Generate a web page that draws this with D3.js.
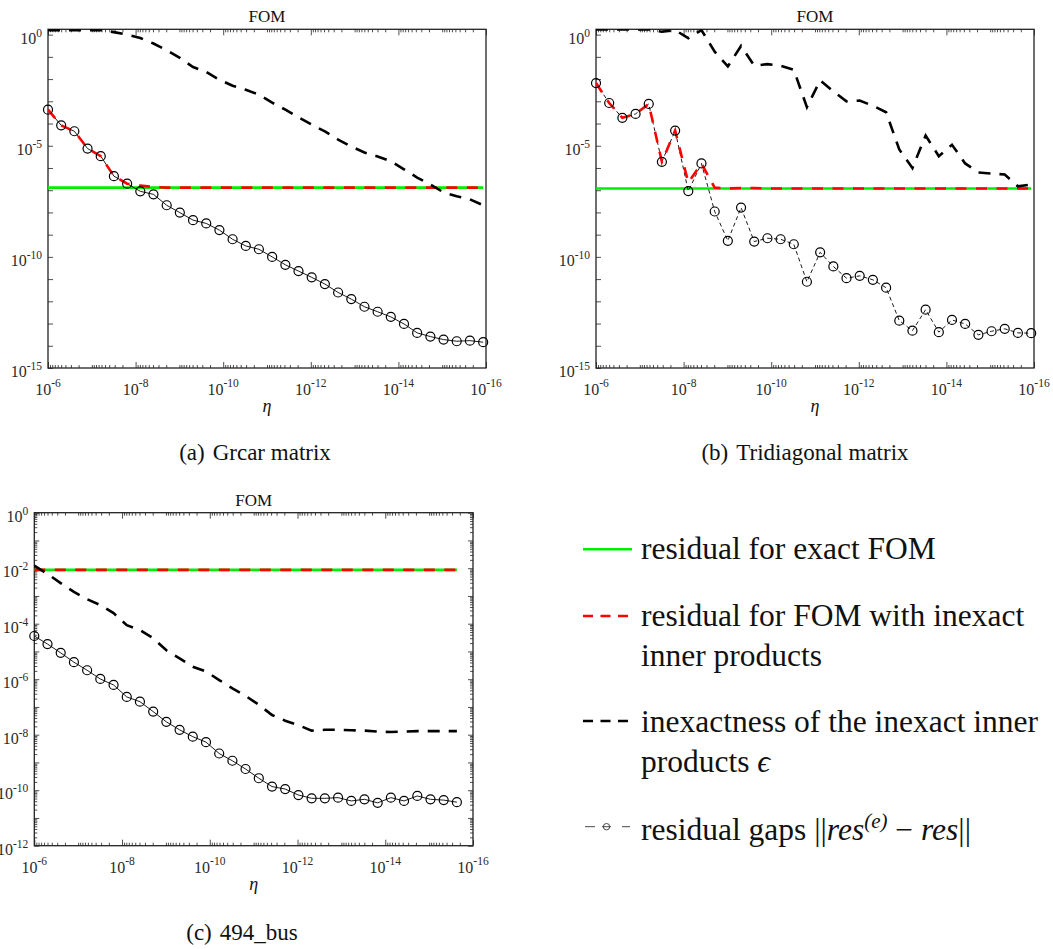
<!DOCTYPE html>
<meta charset="utf-8">
<script src="https://d3js.org/d3.v7.min.js"></script>
<style>
  body { margin: 0; background: #fff; }
  text { font-family: "Liberation Serif", "Times New Roman", serif; fill: #111; }
</style>
<div id="my_dataviz"></div>
<script>

    // eta (x axis), halved at each step from 1e-6
    var eta = [1e-6, 5e-7, 2.5e-7, 1.25e-7, 6.25e-8, 3.13e-8, 1.56e-8, 7.81e-9, 3.91e-9, 1.95e-9,
               9.77e-10, 4.88e-10, 2.44e-10, 1.22e-10, 6.10e-11, 3.05e-11, 1.53e-11, 7.63e-12, 3.81e-12, 1.91e-12,
               9.54e-13, 4.77e-13, 2.38e-13, 1.19e-13, 5.96e-14, 2.98e-14, 1.49e-14, 7.45e-15, 3.73e-15, 1.86e-15,
               9.31e-16, 4.66e-16, 2.33e-16, 1.16e-16];

    // (a) Grcar matrix
    var exactA = 1.3e-7;
    var resA = [4.2e-4, 8.3e-5, 4.5e-5, 7.5e-6, 3.4e-6, 4.3e-7, 1.96e-7, 1.6e-7, 1.4e-7, 1.3e-7,
                1.3e-7, 1.3e-7, 1.3e-7, 1.3e-7, 1.3e-7, 1.3e-7, 1.3e-7, 1.3e-7, 1.3e-7, 1.3e-7,
                1.3e-7, 1.3e-7, 1.3e-7, 1.3e-7, 1.3e-7, 1.3e-7, 1.3e-7, 1.3e-7, 1.3e-7, 1.3e-7,
                1.3e-7, 1.3e-7, 1.3e-7, 1.3e-7];
    var epsA = [1.6, 1.6, 1.6, 1.6, 1.6, 1.3, 1.0, 0.7, 0.4, 0.2,
                0.09, 0.035, 0.021, 0.0093, 0.005, 0.0033, 0.002, 8.7e-4, 4.2e-4, 1.9e-4,
                8.9e-5, 4.4e-5, 1.9e-5, 9.2e-6, 5.0e-6, 3.3e-6, 2.0e-6, 8.7e-7, 3.7e-7, 1.8e-7,
                8.0e-8, 5.3e-8, 3.9e-8, 2.1e-8];
    var gapA = [4.2e-4, 8.3e-5, 4.5e-5, 7.5e-6, 3.4e-6, 4.3e-7, 1.96e-7, 8.9e-8, 6.5e-8, 2.1e-8,
                9.8e-9, 4.5e-9, 3.2e-9, 1.6e-9, 6.2e-10, 3.1e-10, 2.2e-10, 1.0e-10, 4.4e-11, 2.3e-11,
                1.2e-11, 6.0e-12, 2.5e-12, 1.26e-12, 5.7e-13, 3.4e-13, 2.0e-13, 9.6e-14, 3.8e-14, 2.6e-14,
                1.9e-14, 1.6e-14, 1.7e-14, 1.45e-14];

    // (b) Tridiagonal matrix
    var exactB = 1.2e-7;
    var resB = [6.6e-3, 8.4e-4, 1.8e-4, 2.7e-4, 7.6e-4, 1.9e-6, 4.8e-5, 2.2e-7, 1.6e-6, 1.3e-7,
                1.2e-7, 1.25e-7, 1.25e-7, 1.2e-7, 1.2e-7, 1.2e-7, 1.2e-7, 1.2e-7, 1.2e-7, 1.2e-7,
                1.2e-7, 1.2e-7, 1.2e-7, 1.2e-7, 1.2e-7, 1.2e-7, 1.2e-7, 1.2e-7, 1.2e-7, 1.2e-7,
                1.2e-7, 1.2e-7, 1.2e-7, 1.2e-7];
    var epsB = [1.7, 1.7, 1.7, 1.7, 1.7, 1.35, 1.6, 0.69, 1.6, 0.17,
                0.037, 0.31, 0.04, 0.047, 0.04, 0.026, 5.5e-4, 8.7e-3, 2.8e-3, 1.0e-3,
                1.07e-3, 6.3e-4, 3.2e-4, 6.8e-6, 1.0e-6, 2.9e-5, 3.4e-6, 1.1e-5, 1.6e-6, 6.3e-7,
                5.6e-7, 5.1e-7, 1.5e-7, 1.8e-7];
    var gapB = [6.6e-3, 8.4e-4, 1.8e-4, 2.7e-4, 7.6e-4, 1.9e-6, 4.8e-5, 9.1e-8, 1.6e-6, 1.1e-8,
                5.3e-10, 1.65e-8, 4.9e-10, 6.9e-10, 6.2e-10, 3.7e-10, 7.6e-12, 1.6e-10, 3.7e-11, 1.1e-11,
                1.4e-11, 9.3e-12, 4.1e-12, 1.35e-13, 4.8e-14, 4.2e-13, 4.1e-14, 1.45e-13, 9.6e-14, 3.1e-14,
                4.5e-14, 5.8e-14, 3.8e-14, 3.7e-14];

    // (c) 494_bus (33 eta values)
    var exactC = 8.7e-3;
    var resC = [8.7e-3, 8.7e-3, 8.7e-3, 8.7e-3, 8.7e-3, 8.7e-3, 8.7e-3, 8.7e-3, 8.7e-3, 8.7e-3,
                8.7e-3, 8.7e-3, 8.7e-3, 8.7e-3, 8.7e-3, 8.7e-3, 8.7e-3, 8.7e-3, 8.7e-3, 8.7e-3,
                8.7e-3, 8.7e-3, 8.7e-3, 8.7e-3, 8.7e-3, 8.7e-3, 8.7e-3, 8.7e-3, 8.7e-3, 8.7e-3,
                8.7e-3, 8.7e-3, 8.7e-3];
    var epsC = [1.23e-2, 6.2e-3, 2.9e-3, 1.4e-3, 7.6e-4, 4.7e-4, 2.4e-4, 8.9e-5, 5.9e-5, 3.0e-5,
                1.1e-5, 5.6e-6, 2.8e-6, 1.9e-6, 9.3e-7, 4.7e-7, 2.5e-7, 1.2e-7, 5.1e-8, 3.2e-8,
                2.2e-8, 1.4e-8, 1.5e-8, 1.5e-8, 1.45e-8, 1.4e-8, 1.3e-8, 1.25e-8, 1.3e-8, 1.35e-8,
                1.35e-8, 1.35e-8, 1.35e-8];
    var gapC = [3.6e-5, 1.85e-5, 8.9e-6, 4.1e-6, 2.1e-6, 1.02e-6, 6.2e-7, 2.3e-7, 1.55e-7, 6.8e-8,
                2.9e-8, 1.5e-8, 8.5e-9, 5.4e-9, 2.1e-9, 1.15e-9, 5.8e-10, 2.7e-10, 1.35e-10, 1.1e-10,
                6.7e-11, 5.1e-11, 5.1e-11, 5.4e-11, 4.1e-11, 4.7e-11, 3.5e-11, 5.4e-11, 4.1e-11, 6.2e-11,
                4.7e-11, 4.4e-11, 3.7e-11];

    // tick labels (exponents of 10)
    var xTickExp = [-6, -8, -10, -12, -14, -16];
    var yTickExpAB = [0, -5, -10, -15];
    var yTickExpC = [0, -2, -4, -6, -8, -10, -12];

    var captions = ["(a)", "(b)", "(c)"];
    var captionNames = ["Grcar matrix", "Tridiagonal matrix", "494_bus"];

    var svg = d3.select("#my_dataviz")
        .append("svg")
        .attr("width", 1053)
        .attr("height", 949);

    svg.append("rect").attr("width", 1053).attr("height", 949).attr("fill", "#fff");

    var axisColor = "#222";

    function pow10(sel, e, fs, dyExp) {
        sel.append("tspan").text("10");
        sel.append("tspan").attr("dy", dyExp).attr("font-size", fs * 0.72).text(e);
    }

    function decadeMinors(lo, hi) {
        // minor tick positions 2..9 x 10^d for decades lo..hi-1
        var v = [];
        for (var d = lo; d < hi; d++) {
            for (var m = 2; m <= 9; m++) v.push(m * Math.pow(10, d));
        }
        return v;
    }

    function drawPanel(p) {
        var w = p.right - p.left, h = p.bottom - p.top;
        var g = svg.append("g").attr("transform", "translate(" + p.left + "," + p.top + ")");

        var x = d3.scaleLog().domain([1e-6, 1e-16]).range([0, w]);
        var y = d3.scaleLog().domain(p.yDomain).range([h, 0]);

        var xMajor = xTickExp.map(function(e) { return Math.pow(10, e); });
        var xMinor = decadeMinors(-16, -6).concat([1e-7, 1e-9, 1e-11, 1e-13, 1e-15]);

        // x ticks, bottom and top, pointing inward
        [[d3.axisBottom, h], [d3.axisTop, 0]].forEach(function(a) {
            var gm = g.append("g").attr("transform", "translate(0," + a[1] + ")")
                .call(a[0](x).tickValues(xMajor).tickSize(-6).tickFormat(""));
            gm.select(".domain").remove();
            var gn = g.append("g").attr("transform", "translate(0," + a[1] + ")")
                .call(a[0](x).tickValues(xMinor).tickSize(-3).tickFormat(""));
            gn.select(".domain").remove();
        });

        // y ticks
        var yMajor = p.yLabels.map(function(e) { return Math.pow(10, e); });
        var sides = p.mirrorY ? [[d3.axisLeft, 0], [d3.axisRight, w]] : [[d3.axisLeft, 0]];
        sides.forEach(function(a) {
            var gm = g.append("g").attr("transform", "translate(" + a[1] + ",0)")
                .call(a[0](y).tickValues(yMajor.concat(p.yDecades)).tickSize(-5).tickFormat(""));
            gm.select(".domain").remove();
            if (p.yMinor) {
                var gn = g.append("g").attr("transform", "translate(" + a[1] + ",0)")
                    .call(a[0](y).tickValues(p.yMinor).tickSize(-3).tickFormat(""));
                gn.select(".domain").remove();
            }
        });
        g.selectAll(".tick line").attr("stroke", axisColor).attr("stroke-width", 0.8);

        // box
        g.append("rect").attr("width", w).attr("height", h)
            .attr("fill", "none").attr("stroke", axisColor).attr("stroke-width", 1.3);

        // tick labels
        g.selectAll(".xlab").data(p.xLabels).enter().append("text")
            .attr("class", "xlab")
            .attr("x", function(e) { return x(Math.pow(10, e)); })
            .attr("y", h + 27)
            .attr("text-anchor", "middle")
            .attr("font-size", 16)
            .style("fill", "#2a2a2a")
            .each(function(e) { pow10(d3.select(this), e, 16, -8); });

        g.selectAll(".ylab").data(p.yLabels).enter().append("text")
            .attr("class", "ylab")
            .attr("x", -6)
            .attr("y", function(e) { return y(Math.pow(10, e)) + 9; })
            .attr("text-anchor", "end")
            .attr("font-size", 16)
            .style("fill", "#2a2a2a")
            .each(function(e) { pow10(d3.select(this), e, 16, -7); });

        // title and x label
        g.append("text").attr("x", w / 2).attr("y", -7)
            .attr("text-anchor", "middle").attr("font-size", 17).text("FOM");
        g.append("text").attr("x", w / 2).attr("y", h + 44)
            .attr("text-anchor", "middle").attr("font-size", 18)
            .attr("font-style", "italic").text("\u03b7");

        // clip
        var clipId = "clip" + p.id;
        g.append("clipPath").attr("id", clipId)
            .append("rect").attr("width", w).attr("height", h);
        var plot = g.append("g").attr("clip-path", "url(#" + clipId + ")");

        var n = p.gap.length;
        var xs = eta.slice(0, n);
        var line = d3.line()
            .x(function(d) { return x(d[0]); })
            .y(function(d) { return y(d[1]); });

        // exact FOM residual
        plot.append("path")
            .datum([[xs[0], p.exact], [xs[n - 1], p.exact]])
            .attr("d", line).attr("fill", "none")
            .attr("stroke", "#00ee00").attr("stroke-width", 2.6);

        // gap connecting line
        plot.append("path")
            .datum(d3.zip(xs, p.gap))
            .attr("d", line).attr("fill", "none")
            .attr("stroke", "#000").attr("stroke-width", 0.9)
            .attr("stroke-dasharray", p.gapDash);

        // inexact FOM residual
        plot.append("path")
            .datum(d3.zip(xs, p.res))
            .attr("d", line).attr("fill", "none")
            .attr("stroke", "#ff0000").attr("stroke-width", 2.6)
            .attr("stroke-dasharray", "11,9.5");

        // inexactness epsilon
        plot.append("path")
            .datum(d3.zip(xs, p.eps))
            .attr("d", line).attr("fill", "none")
            .attr("stroke", "#000").attr("stroke-width", 2.6)
            .attr("stroke-dasharray", "12,9");

        // gap markers
        g.selectAll(".mk").data(d3.zip(xs, p.gap)).enter().append("circle")
            .attr("class", "mk")
            .attr("cx", function(d) { return x(d[0]); })
            .attr("cy", function(d) { return y(d[1]); })
            .attr("r", 4.5)
            .attr("fill", "none")
            .attr("stroke", "#000")
            .attr("stroke-width", 1.2);
    }

    drawPanel({ id: "a", left: 48, right: 486, top: 29.3, bottom: 368,
        yDomain: [1e-15, Math.pow(10, 0.24)], yLabels: yTickExpAB, xLabels: xTickExp,
        yDecades: [1e-1, 1e-2, 1e-3, 1e-4, 1e-6, 1e-7, 1e-8, 1e-9, 1e-11, 1e-12, 1e-13, 1e-14],
        yMinor: null, mirrorY: false,
        exact: exactA, res: resA, eps: epsA, gap: gapA, gapDash: null });

    drawPanel({ id: "b", left: 596, right: 1034, top: 29.3, bottom: 368,
        yDomain: [1e-15, Math.pow(10, 0.24)], yLabels: yTickExpAB, xLabels: xTickExp,
        yDecades: [1e-1, 1e-2, 1e-3, 1e-4, 1e-6, 1e-7, 1e-8, 1e-9, 1e-11, 1e-12, 1e-13, 1e-14],
        yMinor: null, mirrorY: false,
        exact: exactB, res: resB, eps: epsB, gap: gapB, gapDash: "4,3" });

    drawPanel({ id: "c", left: 34.3, right: 473, top: 512.7, bottom: 845.7,
        yDomain: [1e-12, 1], yLabels: yTickExpC, xLabels: xTickExp,
        yDecades: [1e-1, 1e-3, 1e-5, 1e-7, 1e-9, 1e-11],
        yMinor: decadeMinors(-12, 0), mirrorY: true,
        exact: exactC, res: resC, eps: epsC, gap: gapC, gapDash: null });

    // captions
    var capPos = [[255, 460], [805, 460], [242, 940]];
    capPos.forEach(function(c, i) {
        var t = svg.append("text").attr("x", c[0]).attr("y", c[1])
            .attr("text-anchor", "middle").attr("font-size", 23);
        t.append("tspan").text(captions[i]);
        t.append("tspan").attr("dx", 8).text(captionNames[i]);
    });

    // legend
    var lg = svg.append("g");
    var lx0 = 583, lx1 = 632, tx = 641;

    lg.append("line").attr("x1", lx0).attr("x2", lx1).attr("y1", 549.3).attr("y2", 549.3)
        .attr("stroke", "#00ee00").attr("stroke-width", 2.6);
    lg.append("line").attr("x1", lx0).attr("x2", lx1).attr("y1", 616).attr("y2", 616)
        .attr("stroke", "#ff0000").attr("stroke-width", 2.6).attr("stroke-dasharray", "10,7.5");
    lg.append("line").attr("x1", lx0).attr("x2", lx1).attr("y1", 721).attr("y2", 721)
        .attr("stroke", "#000").attr("stroke-width", 2.6).attr("stroke-dasharray", "10,7.5");
    lg.append("line").attr("x1", 585).attr("x2", 630).attr("y1", 826.7).attr("y2", 826.7)
        .attr("stroke", "#333").attr("stroke-width", 0.9).attr("stroke-dasharray", "10,7,9,11,8");
    lg.append("circle").attr("cx", 606.5).attr("cy", 826.7).attr("r", 3.2)
        .attr("fill", "none").attr("stroke", "#333").attr("stroke-width", 0.9);

    var legendLines = [
        [559, "residual for exact FOM"],
        [626, "residual for FOM with inexact"],
        [665.7, "inner products"],
        [732.3, "inexactness of the inexact inner"]
    ];
    legendLines.forEach(function(l) {
        lg.append("text").attr("x", tx).attr("y", l[0]).attr("font-size", 31.5).text(l[1]);
    });
    var t4 = lg.append("text").attr("x", tx).attr("y", 771.7).attr("font-size", 31.5);
    t4.append("tspan").text("products ");
    t4.append("tspan").attr("font-style", "italic").text("\u03f5");

    var t5 = lg.append("text").attr("x", tx).attr("y", 840).attr("font-size", 31.5);
    t5.append("tspan").text("residual gaps ||");
    t5.append("tspan").attr("font-style", "italic").text("res");
    t5.append("tspan").attr("font-style", "italic").attr("font-size", 21).attr("dy", -12).text("(e)");
    t5.append("tspan").attr("dy", 12).text(" \u2212 ");
    t5.append("tspan").attr("font-style", "italic").text("res");
    t5.append("tspan").text("||");

</script>
